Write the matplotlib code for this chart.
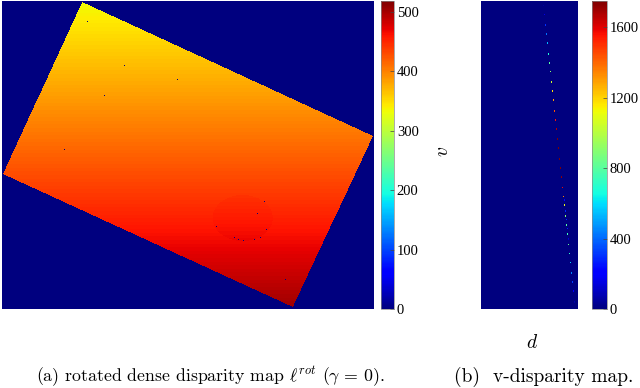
import numpy as np
import matplotlib
matplotlib.use("Agg")
import matplotlib.pyplot as plt
from matplotlib import colormaps

# frame of the rotated disparity map (display pixels)
frame_w, frame_h = 371, 308
# corners of the rotated road region: top, right, bottom, left
corner_x = [80, 370, 290, 1]
corner_y = [1, 135, 306, 173]
# disparity at the top and bottom corners, colour limit of map (a)
disp_top, disp_bottom = 332, 503
disp_max = 518
# pothole ellipse: centre x, centre y, radius x, radius y, disparity offset
pothole = [240, 217, 30, 23]
pothole_offset = 3
# pixels with missing disparity
hole_x = [85, 122, 175, 102, 62, 214, 232, 236, 241, 252, 258, 264, 255, 262, 283]
hole_y = [20, 64, 78, 94, 148, 225, 236, 238, 239, 238, 236, 228, 212, 200, 278]
# colour limit of the v-disparity map and colourbar ticks
vdisp_max = 1750
cbar_a_ticks = [0, 100, 200, 300, 400, 500]
cbar_b_ticks = [0, 400, 800, 1200, 1600]
scale = 5

plt.rcParams['mathtext.fontset'] = 'cm'
jet = colormaps['jet']

# build the rotated dense disparity map
ny, nx = frame_h * scale, frame_w * scale
ys = (np.arange(ny) + 0.5) / scale
xs = (np.arange(nx) + 0.5) / scale
X, Y = np.meshgrid(xs, ys)
inside = np.ones_like(X, dtype=bool)
for i in range(4):
    x1, y1 = corner_x[i], corner_y[i]
    x2, y2 = corner_x[(i + 1) % 4], corner_y[(i + 1) % 4]
    inside &= (x2 - x1) * (Y - y1) - (y2 - y1) * (X - x1) >= 0

disp = disp_top + (disp_bottom - disp_top) * (Y - corner_y[0]) / (corner_y[2] - corner_y[0])
px, py, rx, ry = pothole
in_pot = ((X - px) / rx) ** 2 + ((Y - py) / ry) ** 2 <= 1
disp[in_pot] += pothole_offset
for hx, hy in zip(hole_x, hole_y):
    r0, c0 = int(hy * scale), int(hx * scale)
    disp[r0 - 2:r0 + 3, c0 - 2:c0 + 3] = 0
disp[~inside] = 0

# v-disparity: histogram of disparities in every row
d_int = np.round(disp).astype(int)
ncols = disp_max + 1
rows = np.repeat(np.arange(ny), nx).reshape(ny, nx)
valid = d_int > 0
idx = rows[valid] * ncols + d_int[valid]
vdisp = np.bincount(idx, minlength=ny * ncols).reshape(ny, ncols)

fig = plt.figure(figsize=(6.4, 3.88), dpi=100)
W, H = 640, 388


def px_axes(x0, y0, x1, y1):
    return fig.add_axes([x0 / W, 1 - y1 / H, (x1 - x0) / W, (y1 - y0) / H])


ax1 = px_axes(2, 1, 373, 309)
im1 = ax1.imshow(disp, cmap=jet, vmin=0, vmax=disp_max, interpolation='nearest', aspect='auto')
ax1.axis('off')

ax2 = px_axes(481, 1, 578, 309)
im2 = ax2.imshow(vdisp, cmap=jet, vmin=0, vmax=vdisp_max, interpolation='nearest', aspect='auto')
ax2.axis('off')

for cax_box, im, ticks in [((381, 1, 394, 309), im1, cbar_a_ticks),
                           ((592, 1, 607, 309), im2, cbar_b_ticks)]:
    cax = px_axes(*cax_box)
    cb = fig.colorbar(im, cax=cax, ticks=ticks)
    cb.outline.set_linewidth(0.5)
    cb.outline.set_edgecolor('#888888')
    cax.tick_params(direction='in', length=3, width=0.5, pad=2, color='#444444')
    for lab in cax.get_yticklabels():
        lab.set_fontfamily('Liberation Serif')
        lab.set_fontsize(10.5)

fig.text(442 / W, 1 - 151 / H, r'$v$', fontsize=14, rotation=90, ha='center', va='center')
fig.text(532 / W, 1 - 343 / H, r'$d$', fontsize=14, ha='center', va='center')

fig.text(210 / W, 1 - 377 / H, r'(a) rotated dense disparity map $\ell^{rot}$ $(\gamma\,=\,0)$.',
         family='cmr10', fontsize=12.8, ha='center', va='center')
fig.text(544 / W, 1 - 377 / H, r'(b)  v-disparity map.',
         family='cmr10', fontsize=14, ha='center', va='center')

fig.savefig('out.png', dpi=100)
